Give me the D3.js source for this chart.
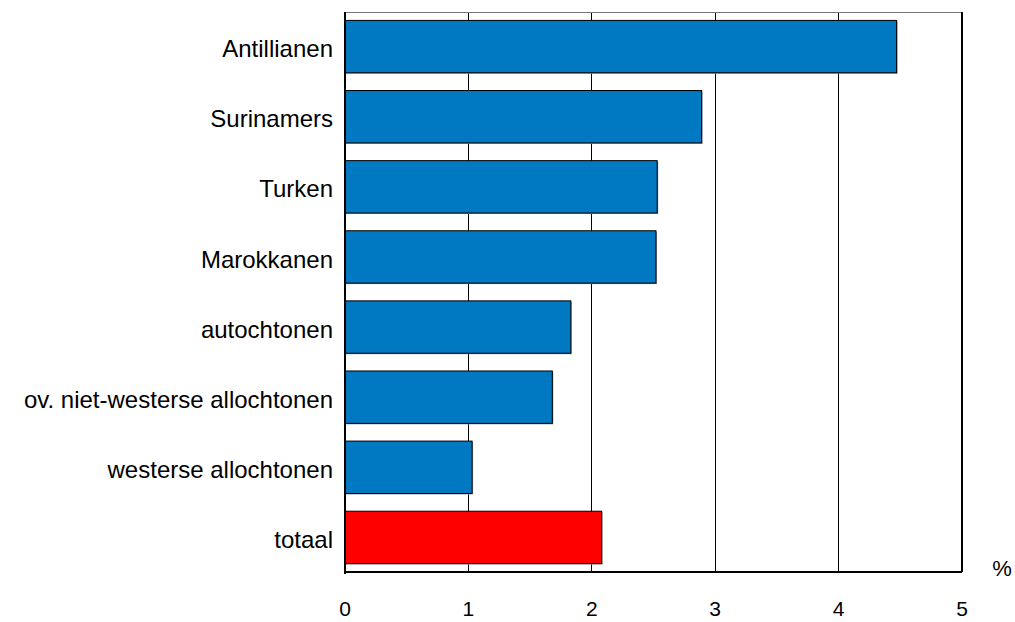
<!DOCTYPE html>
<html><head><meta charset="utf-8">
<script src="https://cdn.jsdelivr.net/npm/d3@7"></script>
<style>body{margin:0;background:#fff}svg{display:block}text{font-family:"Liberation Sans",Arial,sans-serif;fill:#000}</style>
</head><body>
<svg id="c" width="1015" height="622"></svg>
<script>
const categories = ["Antillianen","Surinamers","Turken","Marokkanen","autochtonen","ov. niet-westerse allochtonen","westerse allochtonen","totaal"];
const values = [4.47, 2.89, 2.53, 2.52, 1.83, 1.68, 1.03, 2.08];
const barColors = ["#0078C2","#0078C2","#0078C2","#0078C2","#0078C2","#0078C2","#0078C2","#FF0000"];
const xTicks = [0,1,2,3,4,5];

const svg = d3.select("#c");
const L = 345, R = 962, T = 12, B = 572;
const x = d3.scaleLinear().domain([0,5]).range([L,R]);
const y = d3.scaleBand().domain(categories).range([T,B]).paddingInner(0.253).paddingOuter(0.12);

// grid
svg.selectAll(".grid").data(xTicks.filter(d=>d>0&&d<5)).enter().append("line")
  .attr("x1",d=>x(d)).attr("x2",d=>x(d)).attr("y1",T).attr("y2",B)
  .attr("stroke","#000").attr("stroke-width",1).attr("shape-rendering","crispEdges");

// bars with shadow
svg.selectAll(".sh").data(values).enter().append("rect")
  .attr("x",L+1).attr("y",(d,i)=>y(categories[i])+1)
  .attr("width",d=>x(d)-L).attr("height",y.bandwidth())
  .attr("fill","#999");
svg.selectAll(".bar").data(values).enter().append("rect")
  .attr("x",L).attr("y",(d,i)=>y(categories[i]))
  .attr("width",d=>x(d)-L).attr("height",y.bandwidth())
  .attr("fill",(d,i)=>barColors[i]).attr("stroke","#000").attr("stroke-width",1);

// frame
svg.append("line").attr("x1",L).attr("x2",R).attr("y1",T).attr("y2",T).attr("stroke","#777").attr("shape-rendering","crispEdges");
svg.append("line").attr("x1",R).attr("x2",R).attr("y1",T).attr("y2",B).attr("stroke","#000").attr("stroke-width",1.5).attr("shape-rendering","crispEdges");
svg.append("line").attr("x1",L).attr("x2",L).attr("y1",T).attr("y2",B+2).attr("stroke","#000").attr("stroke-width",1.5).attr("shape-rendering","crispEdges");
svg.append("line").attr("x1",L).attr("x2",R).attr("y1",B).attr("y2",B).attr("stroke","#000").attr("stroke-width",1.5).attr("shape-rendering","crispEdges");

// x labels
svg.selectAll(".xt").data(xTicks).enter().append("text")
  .attr("x",d=>x(d)).attr("y",616).attr("text-anchor","middle")
  .attr("font-size",21).text(d=>d);
svg.append("text").attr("x",1002).attr("y",576).attr("text-anchor","middle").attr("font-size",22).text("%");

// y labels
svg.selectAll(".yl").data(categories).enter().append("text")
  .attr("x",333).attr("y",d=>y(d)+y.bandwidth()/2).attr("dy","0.44em")
  .attr("text-anchor","end").attr("font-size",24).text(d=>d);
</script>
</body></html>
